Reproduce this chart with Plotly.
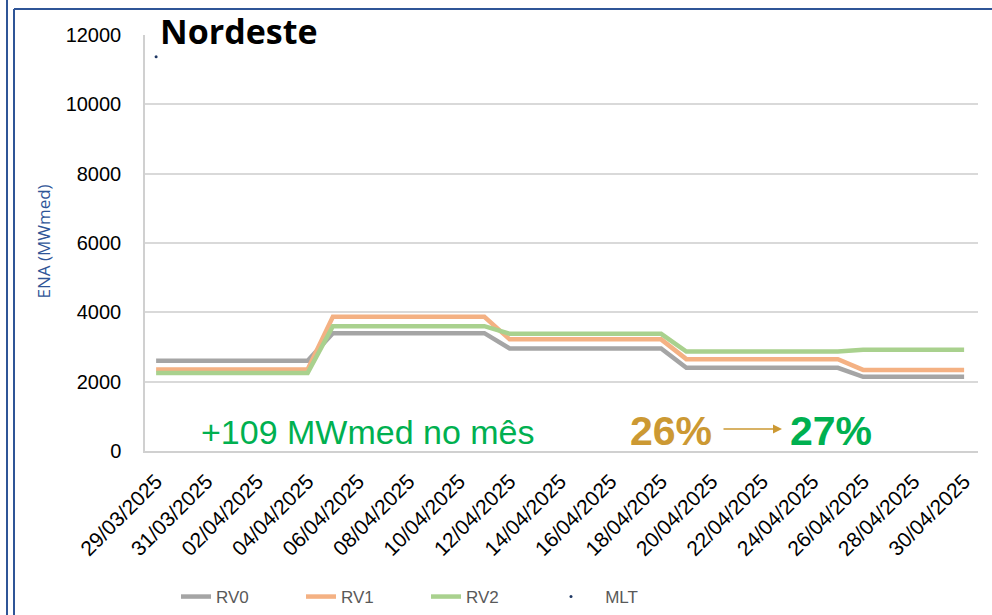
import pandas as pd
import plotly.graph_objects as go

# Datas diárias (29/03 a 30/04/2025)
dates = pd.date_range("2025-03-29", "2025-04-30", freq="D")

rv0 = [2600, 2600, 2600, 2600, 2600, 2600, 2600,
       3400, 3400, 3400, 3400, 3400, 3400, 3400,
       2960, 2960, 2960, 2960, 2960, 2960, 2960,
       2400, 2400, 2400, 2400, 2400, 2400, 2400,
       2140, 2140, 2140, 2140, 2140]
rv1 = [2350, 2350, 2350, 2350, 2350, 2350, 2350,
       3870, 3870, 3870, 3870, 3870, 3870, 3870,
       3220, 3220, 3220, 3220, 3220, 3220, 3220,
       2650, 2650, 2650, 2650, 2650, 2650, 2650,
       2340, 2340, 2340, 2340, 2340]
rv2 = [2250, 2250, 2250, 2250, 2250, 2250, 2250,
       3600, 3600, 3600, 3600, 3600, 3600, 3600,
       3380, 3380, 3380, 3380, 3380, 3380, 3380,
       2870, 2870, 2870, 2870, 2870, 2870, 2870,
       2920, 2920, 2920, 2920, 2920]
mlt_x = ["2025-03-29"]
mlt = [11370]

BLUE = "#2F5597"

fig = go.Figure()
fig.add_trace(go.Scatter(x=dates, y=rv0, name="RV0", mode="lines",
                         line=dict(color="#A5A5A5", width=4.5)))
fig.add_trace(go.Scatter(x=dates, y=rv1, name="RV1", mode="lines",
                         line=dict(color="#F4B183", width=4.5)))
fig.add_trace(go.Scatter(x=dates, y=rv2, name="RV2", mode="lines",
                         line=dict(color="#A9D18E", width=4.5)))
fig.add_trace(go.Scatter(x=mlt_x, y=mlt, name="\u00a0\u00a0\u00a0MLT", mode="markers",
                         marker=dict(color="#1F3864", size=3)))

L, R, T, B = 145, 14, 35, 164
PW, PH = 992 - L - R, 615 - T - B


def px(x):
    return (x - L) / PW


def py(y):
    return (615 - B - y) / PH


fig.update_layout(
    width=992, height=615,
    margin=dict(l=L, r=R, t=T, b=B, autoexpand=False),
    plot_bgcolor="white", paper_bgcolor="white",
    font=dict(family="Liberation Sans", color="black"),
    showlegend=True,
    legend=dict(orientation="h", x=176 / 992, xref="container", xanchor="left",
                y=1 - 597 / 615, yref="container", yanchor="middle",
                entrywidth=80, entrywidthmode="pixels",
                font=dict(family="Liberation Sans", size=17, color="#595959")),
    xaxis=dict(type="date", range=["2025-03-28 13:26", "2025-04-30 13:12"],
               tick0="2025-03-29", dtick=2 * 86400000, tickformat="%d/%m/%Y",
               tickangle=-45, tickfont=dict(size=21), showgrid=False,
               showline=True, linecolor="#D0D0D0", linewidth=1.5, ticks="",
               ticklabelstandoff=8, automargin=False),
    yaxis=dict(range=[0, 12000], dtick=2000, tickformat="d", tickfont=dict(size=20),
               gridcolor="#D9D9D9", gridwidth=1.5, showline=True,
               linecolor="#D0D0D0", linewidth=1.5, zeroline=False,
               ticklabelstandoff=18, automargin=False),
)

fig.add_annotation(text="<b>Nordeste</b>", x=px(158), y=py(31), xref="paper", yref="paper",
                   xanchor="left", yanchor="middle", showarrow=False,
                   font=dict(family="Open Sans", size=34, color="black"))
fig.add_annotation(text="ENA (MWmed)", x=px(29), y=py(242), xref="paper", yref="paper",
                   textangle=-90, showarrow=False,
                   font=dict(family="Open Sans", size=17, color=BLUE))
fig.add_annotation(text="+109 MWmed no mês", x=px(199), y=py(432), xref="paper", yref="paper",
                   xanchor="left", yanchor="middle", showarrow=False,
                   font=dict(family="Liberation Sans", size=34, color="#00B050"))
fig.add_annotation(text="<b>26%</b>", x=px(628), y=py(431), xref="paper", yref="paper",
                   xanchor="left", yanchor="middle", showarrow=False,
                   font=dict(family="Liberation Sans", size=41, color="#CC9933"))
fig.add_annotation(text="<b>27%</b>", x=px(788), y=py(431), xref="paper", yref="paper",
                   xanchor="left", yanchor="middle", showarrow=False,
                   font=dict(family="Liberation Sans", size=41, color="#00B050"))
fig.add_annotation(text="", x=px(782), y=py(429), ax=-60, ay=0,
                   xref="paper", yref="paper", axref="pixel", ayref="pixel",
                   showarrow=True, arrowhead=2, arrowsize=1.2, arrowwidth=1.5,
                   arrowcolor="#CC9933")

# Moldura azul do slide
fig.add_shape(type="line", x0=px(7), x1=px(7), y0=py(0), y1=py(615), xref="paper", yref="paper",
              line=dict(color=BLUE, width=2))
fig.add_shape(type="line", x0=px(14), x1=px(14), y0=py(9), y1=py(615), xref="paper", yref="paper",
              line=dict(color=BLUE, width=2))
fig.add_shape(type="line", x0=px(14), x1=px(992), y0=py(9), y1=py(9), xref="paper", yref="paper",
              line=dict(color=BLUE, width=2))

fig.write_html("out.html", config={"displayModeBar": False},
               post_script="document.body.style.margin='0';")
